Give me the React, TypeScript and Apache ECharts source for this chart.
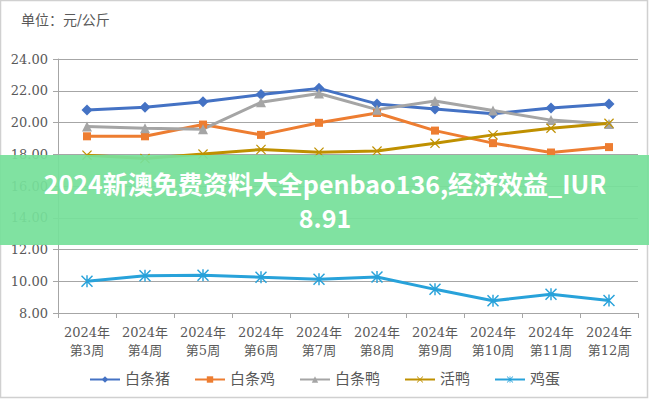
import React, { useEffect, useRef } from "react";
import * as echarts from "echarts";

const categories = ["2024年\n第3周", "2024年\n第4周", "2024年\n第5周", "2024年\n第6周", "2024年\n第7周", "2024年\n第8周", "2024年\n第9周", "2024年\n第10周", "2024年\n第11周", "2024年\n第12周"];
const pork = [20.79, 20.96, 21.3, 21.76, 22.15, 21.17, 20.85, 20.55, 20.92, 21.17];
const chicken = [19.13, 19.13, 19.87, 19.22, 19.98, 20.6, 19.49, 18.7, 18.11, 18.45];
const duck = [19.75, 19.64, 19.58, 21.27, 21.83, 20.81, 21.36, 20.76, 20.15, 19.9];
const liveDuck = [17.94, 17.73, 18.01, 18.3, 18.13, 18.2, 18.69, 19.22, 19.64, 19.95];
const eggs = [10.0, 10.34, 10.38, 10.25, 10.13, 10.27, 9.49, 8.77, 9.18, 8.79];
const seriesNames = ["白条猪", "白条鸡", "白条鸭", "活鸭", "鸡蛋"];
const unitLabel = "单位：元/公斤";
const bannerLine1 = "2024新澳免费资料大全penbao136,经济效益_IUR";
const bannerLine2 = "8.91";

const XMARK = "path://M0.85,0 L10,9.15 L9.15,10 L0,0.85 Z M9.15,0 L10,0.85 L0.85,10 L0,9.15 Z";
const STAR = "path://M0.85,0 L10,9.15 L9.15,10 L0,0.85 Z M9.15,0 L10,0.85 L0.85,10 L0,9.15 Z M4.4,0 L5.6,0 L5.6,10 L4.4,10 Z";

const labelFont = '"DejaVu Serif", "Noto Sans CJK SC", serif';

export default function App() {
  const ref = useRef<HTMLDivElement>(null);
  useEffect(() => {
    if (!ref.current) return;
    const chart = echarts.init(ref.current, null, { renderer: "svg" });
    const mk = (name: string, data: number[], color: string, symbol: string, size: number) => ({
      name,
      type: "line",
      data,
      symbol,
      symbolSize: size,
      lineStyle: { color, width: 3 },
      itemStyle: { color, borderWidth: 0 },
      emphasis: { disabled: true },
    });
    chart.setOption({
      animation: false,
      backgroundColor: "#ffffff",
      textStyle: { fontFamily: labelFont },
      grid: { left: 58, right: 11, top: 59, bottom: 87, containLabel: false },
      xAxis: {
        type: "category",
        data: categories,
        boundaryGap: true,
        axisLine: { lineStyle: { color: "#A6A6A6", width: 1 } },
        axisTick: { show: true, alignWithLabel: false, length: 5, lineStyle: { color: "#A6A6A6" } },
        axisLabel: { color: "#595959", fontSize: 13, fontFamily: labelFont, lineHeight: 18, margin: 10, interval: 0 },
      },
      yAxis: {
        type: "value",
        min: 8,
        max: 24,
        interval: 2,
        axisLine: { show: true, lineStyle: { color: "#A6A6A6", width: 1 } },
        axisTick: { show: true, length: 5, lineStyle: { color: "#A6A6A6" } },
        axisLabel: { color: "#595959", fontSize: 13, fontFamily: labelFont, margin: 10, formatter: (v: number) => v.toFixed(2) },
        splitLine: { lineStyle: { color: "#A6A6A6", width: 1 } },
      },
      legend: {
        bottom: 8,
        left: "center",
        itemWidth: 30,
        itemHeight: 8,
        itemGap: 24,
        textStyle: { color: "#595959", fontSize: 15, fontFamily: labelFont },
        data: seriesNames,
      },
      series: [
        mk(seriesNames[0], pork, "#4472C4", "diamond", 11),
        mk(seriesNames[1], chicken, "#ED7D31", "rect", 8),
        mk(seriesNames[2], duck, "#A5A5A5", "triangle", 10),
        mk(seriesNames[3], liveDuck, "#BF9000", XMARK, 10),
        mk(seriesNames[4], eggs, "#28A2DA", STAR, 12),
      ],
      graphic: [
        {
          type: "rect",
          shape: { x: 0.5, y: 0.5, width: 647, height: 397 },
          style: { fill: "none", stroke: "#D0D0D0", lineWidth: 1.5 },
          silent: true,
        },
        {
          type: "text",
          x: 21,
          y: 20,
          style: { text: unitLabel, fill: "#595959", fontSize: 14, fontFamily: labelFont, verticalAlign: "middle", align: "left" },
          silent: true,
        },
        {
          type: "rect",
          shape: { x: 0, y: 155, width: 649, height: 90 },
          style: { fill: "rgba(118,224,154,0.93)" },
          z: 100,
          silent: true,
        },
        {
          type: "text",
          x: 325,
          y: 183,
          z: 101,
          style: { text: bannerLine1, fill: "#ffffff", fontSize: 25, fontWeight: "bold", fontFamily: '"Noto Sans CJK SC", "Noto Sans", sans-serif', align: "center", verticalAlign: "middle" },
          silent: true,
        },
        {
          type: "text",
          x: 325,
          y: 217,
          z: 101,
          style: { text: bannerLine2, fill: "#ffffff", fontSize: 25, fontWeight: "bold", fontFamily: '"Noto Sans CJK SC", "Noto Sans", sans-serif', align: "center", verticalAlign: "middle" },
          silent: true,
        },
      ],
    });
    return () => chart.dispose();
  }, []);
  return <div ref={ref} style={{ position: "fixed", left: 0, top: 0, width: 649, height: 400 }} />;
}
